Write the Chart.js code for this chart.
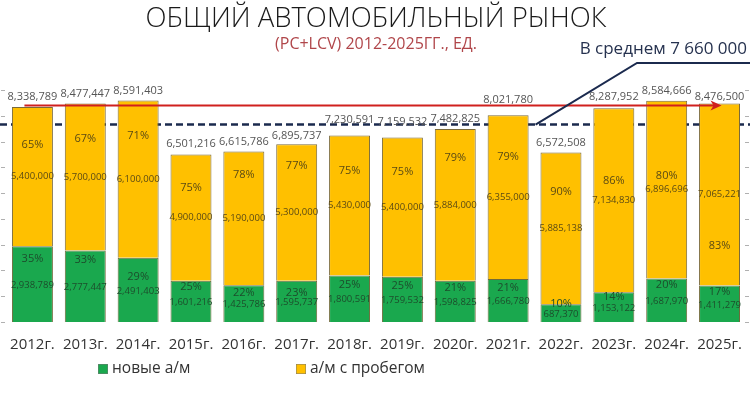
<!DOCTYPE html>
<html><head><meta charset="utf-8">
<script src="https://cdn.jsdelivr.net/npm/chart.js@4/dist/chart.umd.min.js"></script>
<style>html,body{margin:0;padding:0;background:#fff}#wrap{width:750px;height:397px}</style>
</head><body><div id="wrap"><canvas id="c" width="750" height="397"></canvas></div>
<script>
// ---- data ----
const categories = ['2012г.','2013г.','2014г.','2015г.','2016г.','2017г.','2018г.','2019г.','2020г.','2021г.','2022г.','2023г.','2024г.','2025г.'];
const newCars  = [2938789, 2777447, 2491403, 1601216, 1425786, 1595737, 1800591, 1759532, 1598825, 1666780, 687370, 1153122, 1687970, 1411279];
const usedCars = [5400000, 5700000, 6100000, 4900000, 5190000, 5300000, 5430000, 5400000, 5884000, 6355000, 5885138, 7134830, 6896696, 7065221];
const seriesNames = ['новые а/м', 'а/м с пробегом'];
const averageValue = 7660000;
const averageLabel = 'В среднем 7 660 000';
const trendValue = 8400000;
const titleText = 'ОБЩИЙ АВТОМОБИЛЬНЫЙ РЫНОК';
const subtitleText = '(PC+LCV) 2012-2025ГГ., ЕД.';

// ---- layout tweaks for labels (pixel offsets, not data) ----
const usedPctOffset = [-32,-38,-43,-30,-43,-47,-35,-35,-47,-40,-37,-19,-14,51];
const newPctOffset  = [-25,-26,-13,-15,-11,-9,-14,-13,-14,-13,-9,-10,-15,-12];
const totalOffset   = [-10,-10,-10,-11,-10,-8,-16,-16,-10,-15,-10,-11,-10,-7];

const FONT = "'Open Sans', 'DejaVu Sans', sans-serif";
const GREEN = '#1aa84e', YELLOW = '#ffc000';
const fmt = v => v.toLocaleString('en-US');

const deco = {
  id: 'deco',
  beforeDatasetsDraw(chart) {
    const {ctx} = chart, y = chart.scales.y;
    const yy = y.getPixelForValue(averageValue);
    ctx.save();
    ctx.strokeStyle = '#1b2a4e'; ctx.lineWidth = 2.5; ctx.setLineDash([7,4]);
    ctx.beginPath(); ctx.moveTo(0, yy); ctx.lineTo(750, yy); ctx.stroke();
    ctx.restore();
  },
  afterDatasetsDraw(chart) {
    const {ctx} = chart, x = chart.scales.x, y = chart.scales.y;
    ctx.save();
    // y tick marks
    ctx.strokeStyle = '#b0b0b0'; ctx.lineWidth = 1;
    y.ticks.forEach(t => {
      const p = Math.round(y.getPixelForValue(t.value)) + 0.5;
      ctx.beginPath(); ctx.moveTo(1, p); ctx.lineTo(5, p); ctx.moveTo(745, p); ctx.lineTo(749, p); ctx.stroke();
    });
    // labels
    const m0 = chart.getDatasetMeta(0), m1 = chart.getDatasetMeta(1);
    ctx.textAlign = 'center'; ctx.textBaseline = 'middle';
    categories.forEach((c, i) => {
      const total = newCars[i] + usedCars[i];
      const g = m0.data[i], u = m1.data[i];
      const gc = (g.y + g.base) / 2, uc = (u.y + u.base) / 2;
      ctx.fillStyle = '#555';
      ctx.font = `11px ${FONT}`;
      ctx.fillText(fmt(total), u.x, u.y + totalOffset[i]);
      ctx.fillStyle = '#5b4a14';
      ctx.font = `11px ${FONT}`;
      ctx.fillText(Math.round(usedCars[i] / total * 100) + '%', u.x, uc + usedPctOffset[i]);
      ctx.font = `9.5px ${FONT}`;
      ctx.fillText(fmt(usedCars[i]), u.x, uc);
      ctx.fillStyle = '#1d4d2c';
      ctx.font = `11px ${FONT}`;
      ctx.fillText(Math.round(newCars[i] / total * 100) + '%', g.x, gc + newPctOffset[i]);
      ctx.font = `9.5px ${FONT}`;
      ctx.fillText(fmt(newCars[i]), g.x, gc + 1);
    });
    // red arrow
    const ry = y.getPixelForValue(trendValue);
    const rx0 = x.getPixelForValue(0) - 8, rx1 = x.getPixelForValue(categories.length - 1) + 2;
    ctx.strokeStyle = '#d0201e'; ctx.fillStyle = '#d0201e'; ctx.lineWidth = 2;
    ctx.beginPath(); ctx.moveTo(rx0, ry); ctx.lineTo(rx1 - 6, ry); ctx.stroke();
    ctx.beginPath(); ctx.moveTo(rx1, ry); ctx.lineTo(rx1 - 11, ry - 5); ctx.lineTo(rx1 - 8, ry); ctx.lineTo(rx1 - 11, ry + 5); ctx.closePath(); ctx.fill();
    // callout
    const ay = y.getPixelForValue(averageValue);
    const cx0 = x.getPixelForValue(9.5) + 1;
    ctx.strokeStyle = '#1b2a4e'; ctx.lineWidth = 2;
    ctx.beginPath(); ctx.moveTo(cx0, ay); ctx.lineTo(637, 63); ctx.lineTo(750, 63); ctx.stroke();
    ctx.fillStyle = '#26324f'; ctx.font = `17px ${FONT}`; ctx.textAlign = 'right';
    ctx.fillText(averageLabel, 747, 49);
    // title
    ctx.textAlign = 'center';
    ctx.fillStyle = '#1a1a1a'; ctx.font = `300 27.5px ${FONT}`;
    ctx.fillText(titleText, 376, 19);
    ctx.fillStyle = '#b0464a'; ctx.font = `16px ${FONT}`;
    ctx.fillText(subtitleText, 376, 44);
    // legend
    ctx.textAlign = 'left'; ctx.font = `15.5px ${FONT}`;
    [[98, GREEN, seriesNames[0]], [296, YELLOW, seriesNames[1]]].forEach(([lx, col, txt]) => {
      ctx.fillStyle = col; ctx.fillRect(lx, 364, 10, 10);
      ctx.strokeStyle = '#777'; ctx.lineWidth = 0.5; ctx.strokeRect(lx + 0.25, 364.25, 9.5, 9.5);
      ctx.fillStyle = '#333'; ctx.fillText(txt, lx + 14, 369);
    });
    ctx.restore();
  }
};

new Chart(document.getElementById('c'), {
  type: 'bar',
  data: {
    labels: categories,
    datasets: [
      {label: seriesNames[0], data: newCars, backgroundColor: GREEN, borderColor: '#6f6a3a', borderWidth: 1, barPercentage: 0.775, categoryPercentage: 1},
      {label: seriesNames[1], data: usedCars, backgroundColor: YELLOW, borderColor: '#7a6a3a', borderWidth: 1, barPercentage: 0.775, categoryPercentage: 1}
    ]
  },
  options: {
    responsive: false, animation: false, devicePixelRatio: 1,
    layout: {padding: {top: 90, left: 6, right: 3, bottom: 0}},
    plugins: {legend: {display: false}, tooltip: {enabled: false}},
    scales: {
      x: {stacked: true, grid: {display: false, drawTicks: false}, border: {display: false},
          afterFit(scale) { scale.height = 75; },
          ticks: {font: {family: FONT, size: 15, lineHeight: 2}, color: '#333', padding: 8, autoSkip: false, maxRotation: 0}},
      y: {stacked: true, display: false, min: 0, max: 9000000, ticks: {stepSize: 1000000}}
    }
  },
  plugins: [deco]
});
</script></body></html>
